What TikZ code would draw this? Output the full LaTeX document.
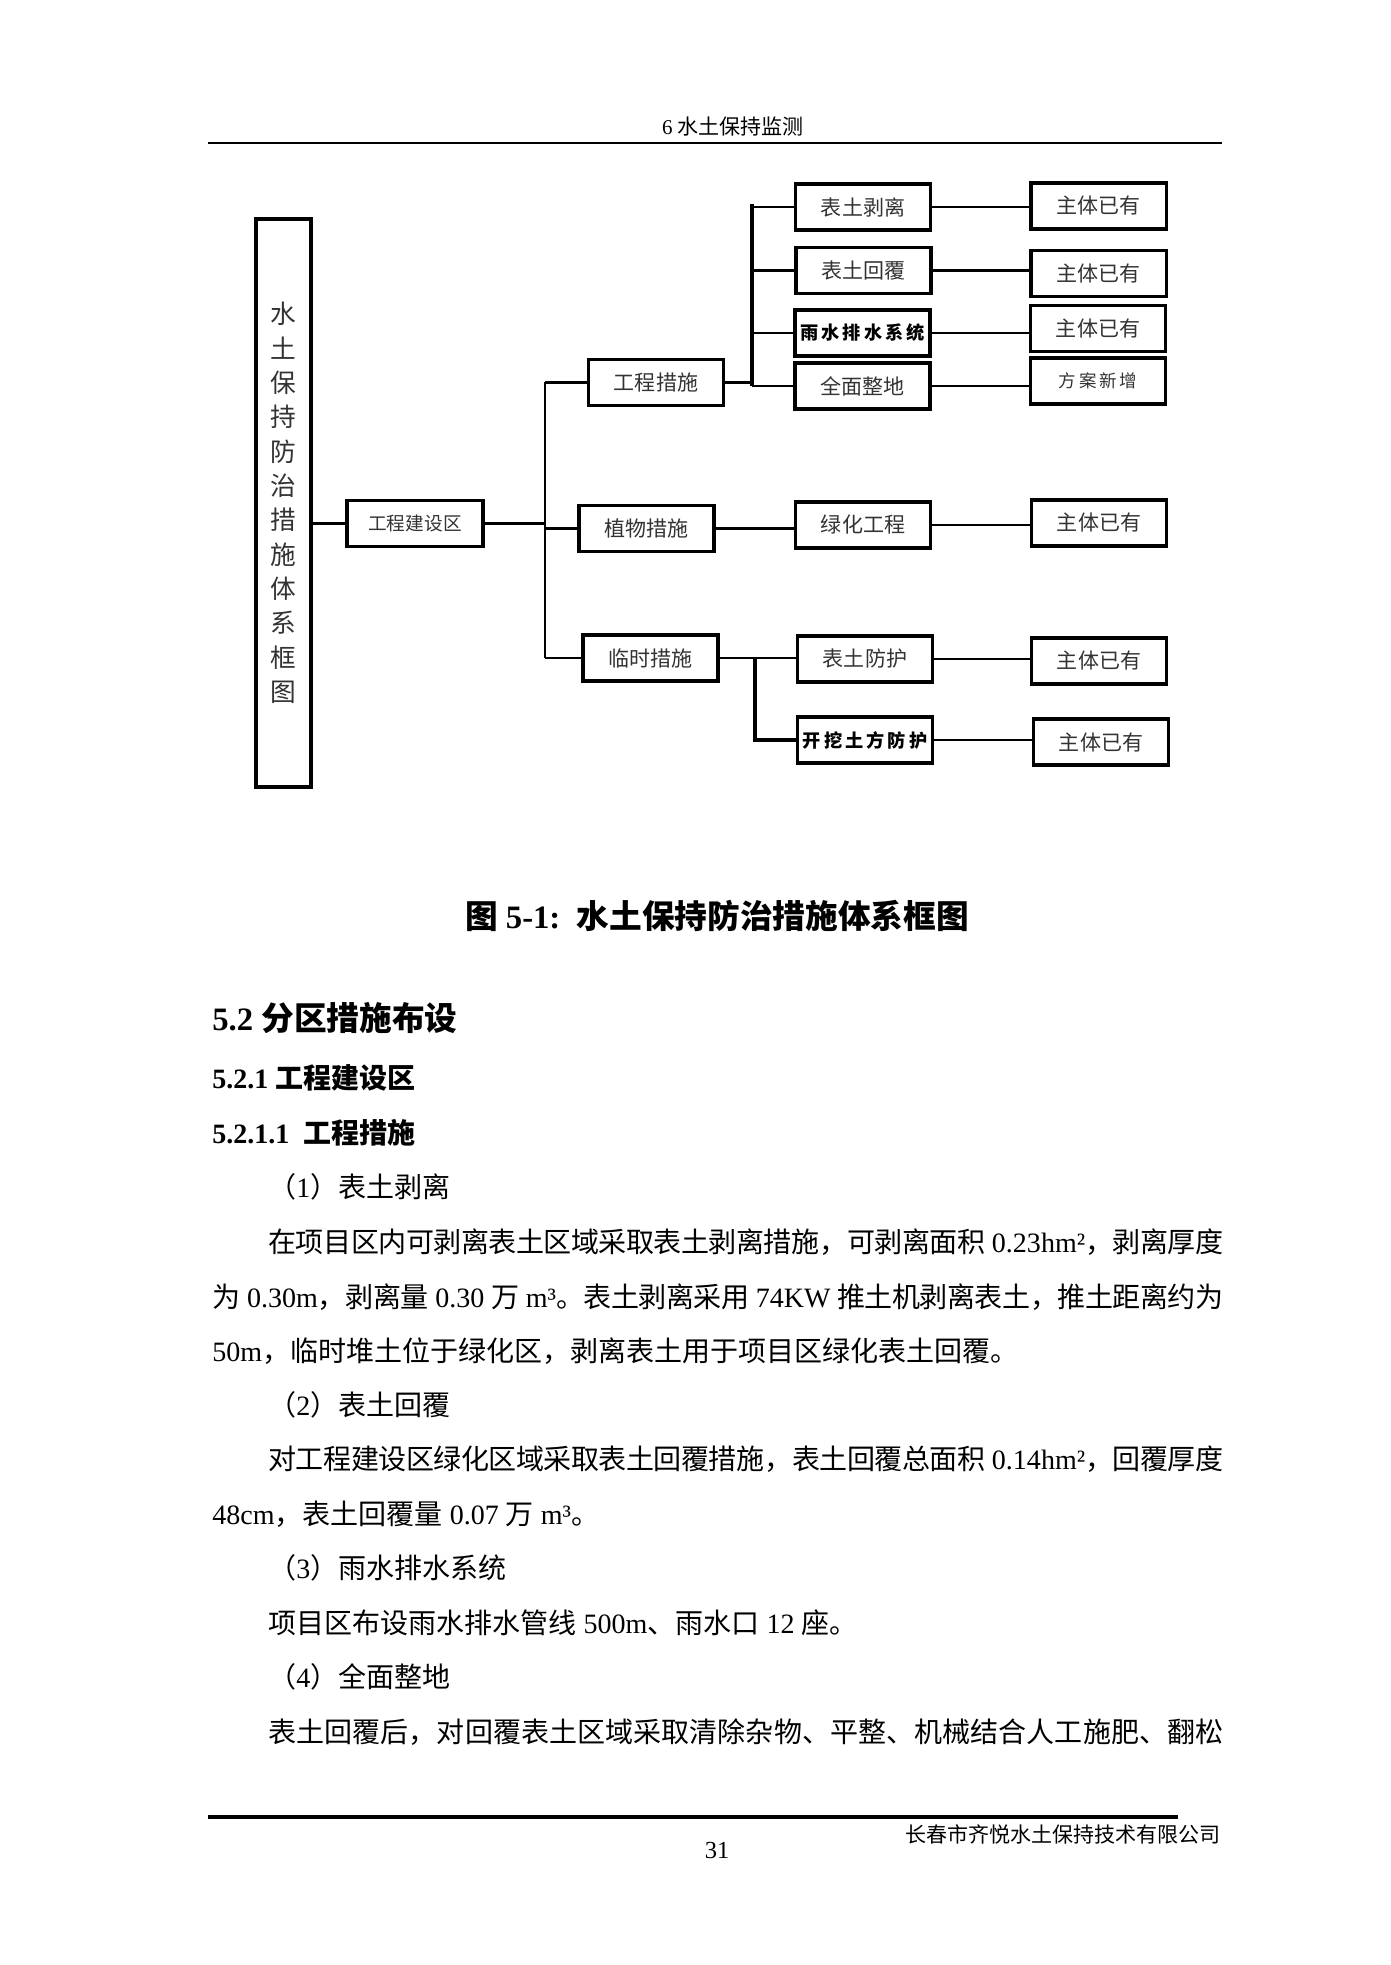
\documentclass[tikz,border=0pt]{standalone}
\usepackage{fontspec}
\setmainfont{Noto Sans CJK SC}
\newfontfamily\latinfont{Liberation Serif}
\newcommand\lat[1]{{\latinfont #1}}
\newcommand\px{0.4283pt}
\newcommand\jline[2]{\parbox{#1}{\XeTeXlinebreaklocale "zh"\XeTeXlinebreakskip=0pt plus 4pt minus 2pt\parfillskip=0pt\tolerance=9999\noindent #2}}

\begin{document}
\begin{tikzpicture}[x=\px, y=-\px, line width=1.2pt,
    box/.style={draw, line width=1.3pt, minimum width=135*\px, minimum height=46*\px, inner sep=0pt, font=\fontsize{9}{10}\selectfont, text=black!80},
    bbox/.style={box, font=\bfseries\fontsize{7.8}{9}\selectfont, text=black},
    txt/.style={anchor=west, inner sep=0pt, font=\fontsize{12}{14}\selectfont}]
    \fill[white] (0,0) rectangle (1390,1965);
    \useasboundingbox (0,0) rectangle (1390,1965);

    \node[font=\fontsize{9}{10}\selectfont] (hdr) at (733,127) {\lat{6 }水土保持监测};
    \draw[line width=1.2pt] (208,143) -- (1222,143);

    \node[box, minimum width=55*\px, minimum height=568*\px, font=\fontsize{11}{14.7}\selectfont, align=center] (title) at (283.5,503) {水\\土\\保\\持\\防\\治\\措\\施\\体\\系\\框\\图};
    \node[box, minimum width=136*\px, font=\fontsize{8}{9}\selectfont] (gcjsq) at (415,523.5) {工程建设区};
    \node[box] (gccs) at (656,382.5) {工程措施};
    \node[box] (zwcs) at (646.5,528.5) {植物措施};
    \node[box] (lscs) at (650.5,658) {临时措施};
    \node[box] (btbl) at (863,207) {表土剥离};
    \node[box] (bthf) at (863.5,270.5) {表土回覆};
    \node[bbox] (ysps) at (862.5,333) {雨\,水\,排\,水\,系\,统};
    \node[box] (qmzd) at (862.5,386) {全面整地};
    \node[box] (lhgc) at (863,525) {绿化工程};
    \node[box] (btfh) at (865,659) {表土防护};
    \node[bbox] (kwtf) at (865,740) {开\,挖\,土\,方\,防\,护};
    \node[box] (zt1) at (1098.5,206) {主体已有};
    \node[box] (zt2) at (1098.5,273.5) {主体已有};
    \node[box] (zt3) at (1098,328.5) {主体已有};
    \node[box, font=\fontsize{7.5}{9}\selectfont] (faxz) at (1098,381) {方\,案\,新\,增};
    \node[box] (zt4) at (1099,523) {主体已有};
    \node[box] (zt5) at (1099,661) {主体已有};
    \node[box] (zt6) at (1101,742) {主体已有};

    \coordinate (bus1) at (545,0);
    \coordinate (bus2) at (752,204);
    \coordinate (bus3) at (755,0);
    \draw (title.east |- gcjsq.west) -- (gcjsq.west);
    \draw (gcjsq.east) -- (bus1 |- gcjsq.east);
    \draw (bus1 |- gccs.west) -- (bus1 |- lscs.west);
    \foreach \n in {gccs,zwcs,lscs} \draw (bus1 |- \n.west) -- (\n.west);
    \draw[line width=1.4pt] (bus2) -- (bus2 |- qmzd.west);
    \draw (gccs.east) -- (bus2 |- gccs.east);
    \foreach \n in {btbl,bthf,ysps,qmzd} \draw (bus2 |- \n.west) -- (\n.west);
    \draw (zwcs.east) -- (zwcs.east -| lhgc.west);
    \draw (lscs.east) -- (lscs.east -| btfh.west);
    \draw[line width=1.7pt] (bus3 |- lscs.east) -- (bus3 |- kwtf.west) -- (kwtf.west);
    \foreach \a/\b in {btbl/zt1,bthf/zt2,ysps/zt3,qmzd/faxz,lhgc/zt4,btfh/zt5,kwtf/zt6}
        \draw (\a.east) -- (\a.east -| \b.west);

    \node[font=\bfseries\fontsize{14}{16}\selectfont] (cap) at (717,916) {图\lat{ 5-1:\ \ }水土保持防治措施体系框图};
    \node[txt, font=\bfseries\fontsize{14}{16}\selectfont] (h52) at (211,1018) {\lat{5.2 }分区措施布设};
    \node[txt, font=\bfseries\fontsize{12}{14}\selectfont] (h521) at (211,1078) {\lat{5.2.1 }工程建设区};
    \node[txt, font=\bfseries\fontsize{12}{14}\selectfont] (h5211) at (211,1133) {\lat{5.2.1.1\ \ }工程措施};
    \node[txt] (i1) at (267,1187) {（\lat{1}）表土剥离};
    \node[txt] (p1a) at (267,1242) {\jline{409pt}{在项目区内可剥离表土区域采取表土剥离措施，可剥离面积\lat{ 0.23hm²}，剥离厚度}};
    \node[txt] (p1b) at (211,1297) {\jline{433pt}{为\lat{ 0.30m}，剥离量\lat{ 0.30 }万\lat{ m³}。表土剥离采用\lat{ 74KW }推土机剥离表土，推土距离约为}};
    \node[txt] (p1c) at (211,1351) {\lat{50m}，临时堆土位于绿化区，剥离表土用于项目区绿化表土回覆。};
    \node[txt] (i2) at (267,1405) {（\lat{2}）表土回覆};
    \node[txt] (p2a) at (267,1459) {\jline{409pt}{对工程建设区绿化区域采取表土回覆措施，表土回覆总面积\lat{ 0.14hm²}，回覆厚度}};
    \node[txt] (p2b) at (211,1514) {\lat{48cm}，表土回覆量\lat{ 0.07 }万\lat{ m³}。};
    \node[txt] (i3) at (267,1568) {（\lat{3}）雨水排水系统};
    \node[txt] (p3) at (267,1623) {项目区布设雨水排水管线\lat{ 500m}、雨水口\lat{ 12 }座。};
    \node[txt] (i4) at (267,1677) {（\lat{4}）全面整地};
    \node[txt] (p4) at (267,1732) {\jline{409pt}{表土回覆后，对回覆表土区域采取清除杂物、平整、机械结合人工施肥、翻松}};

    \draw[line width=1.8pt] (208,1817) -- (1178,1817);
    \node[anchor=east, inner sep=0pt, font=\fontsize{9}{10}\selectfont] (ftr) at (1222,1834) {长春市齐悦水土保持技术有限公司};
    \node[font=\latinfont\fontsize{10.5}{12}\selectfont] (pg) at (717,1850) {31};
\end{tikzpicture}
\end{document}
